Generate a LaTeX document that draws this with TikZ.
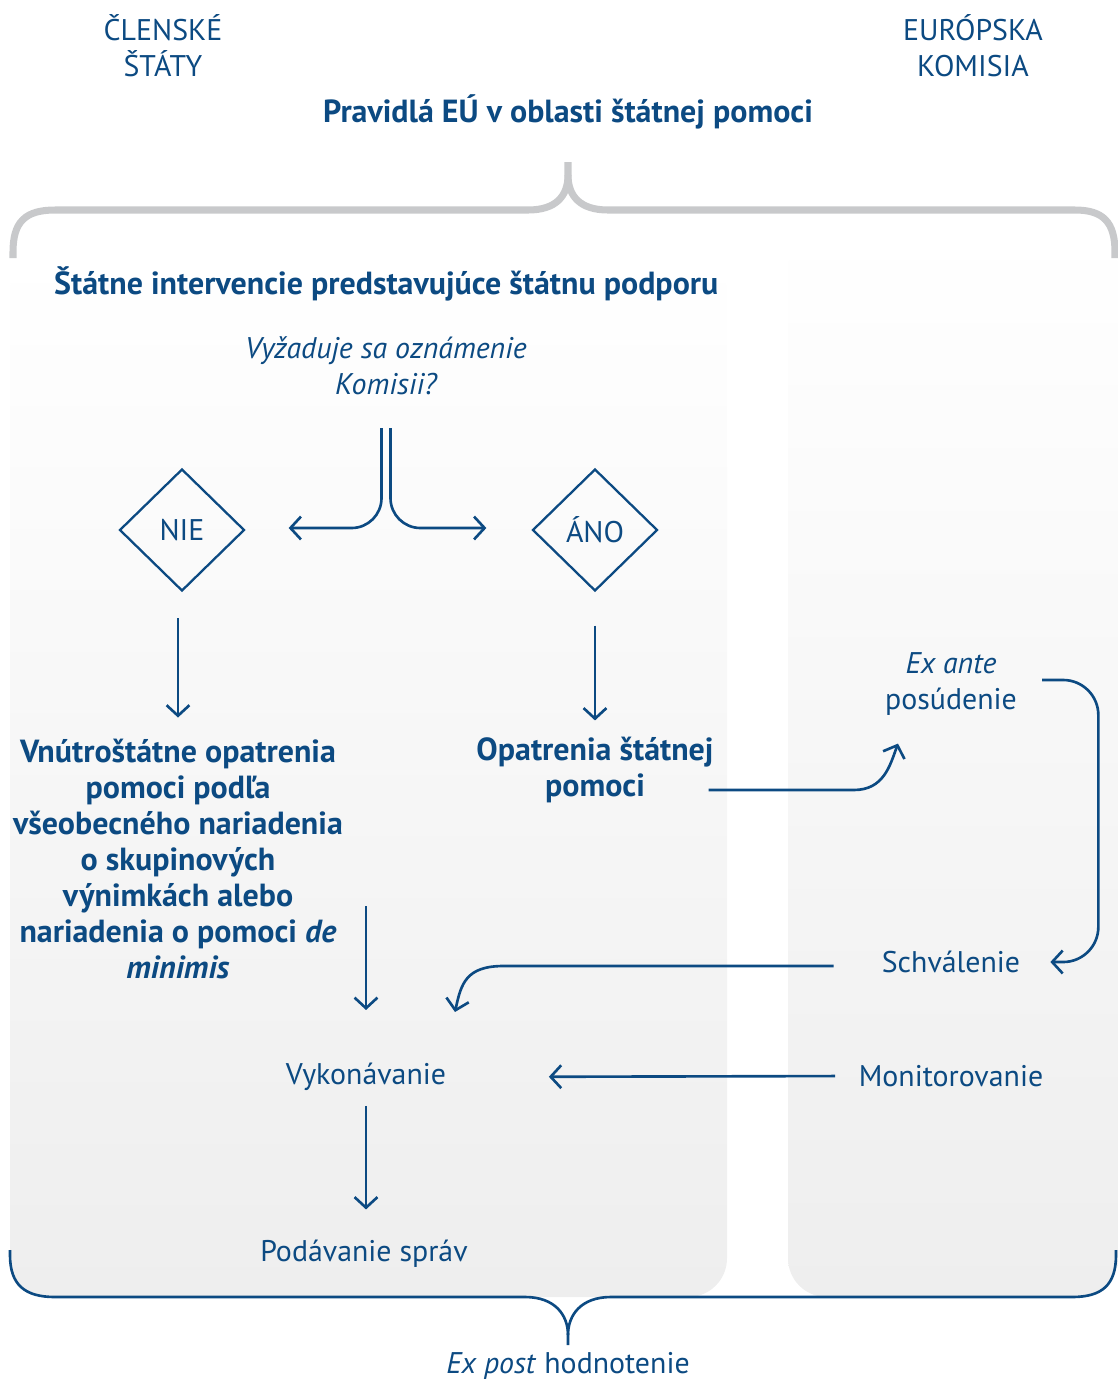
\documentclass[tikz,border=0pt]{standalone}
\usepackage{fontspec}
\setmainfont{PT Sans}
\usetikzlibrary{calc,arrows.meta,positioning,shapes.geometric}
\definecolor{euBlue}{RGB}{12,74,130}
\definecolor{braceGray}{RGB}{200,201,203}
\definecolor{panelGray}{RGB}{238,238,238}

\begin{document}
\begin{tikzpicture}[x=0.02cm,y=-0.02cm,
		txt/.style={text=euBlue, align=center, font=\fontsize{17}{20.4}\selectfont},
		btxt/.style={txt, font=\fontsize{18.2}{20.4}\selectfont\bfseries},
		itxt/.style={txt, font=\fontsize{17}{20.4}\selectfont\itshape},
		choice/.style={diamond, draw=euBlue, line width=1.3pt, minimum width=2.5cm, minimum height=2.44cm, inner sep=0pt, txt},
		flow/.style={draw=euBlue, line width=1.5pt, -{Straight Barb[length=6pt,width=13pt]}}]
		\useasboundingbox (0,0) rectangle (1118,1384);

		% Panelen
		\shade[top color=white, bottom color=panelGray, rounded corners=22pt] (10,252) rectangle (727,1297);
		\shade[top color=white, bottom color=panelGray, rounded corners=22pt] (788,228) rectangle (1118,1297);

		% Accolades
		\draw[braceGray, line width=4pt] (13,258) -- (13,252) .. controls (13,222) and (25,210) .. (55,210) -- (528,210) .. controls (556,210) and (568,196) .. (568,175) -- (568,162);
		\draw[braceGray, line width=4pt] (568,175) .. controls (568,196) and (580,210) .. (608,210) -- (1075,210) .. controls (1103,210) and (1115,222) .. (1115,252) -- (1115,258);
		\draw[euBlue, line width=1.5pt] (10,1250) -- (10,1255) .. controls (10,1285) and (25,1297) .. (55,1297) -- (525,1297) .. controls (555,1297) and (568,1315) .. (568,1335) -- (568,1345);
		\draw[euBlue, line width=1.5pt] (568,1335) .. controls (568,1315) and (581,1297) .. (611,1297) -- (1072,1297) .. controls (1102,1297) and (1116,1285) .. (1116,1255) -- (1116,1250);

		% Teksten
		\node[txt] (clen) at (163,46) {ČLENSKÉ\\ŠTÁTY};
		\node[txt] (komisia) at (973,46) {EURÓPSKA\\KOMISIA};
		\node[btxt] (rules) at (568,112) {Pravidlá EÚ v oblasti štátnej pomoci};
		\node[btxt, anchor=west] (interv) at (48,284) {Štátne intervencie predstavujúce štátnu podporu};
		\node[itxt] (ask) at (386,366) {Vyžaduje sa oznámenie\\Komisii?};
		\node[choice] (nie) at (182,530) {NIE};
		\node[choice] (ano) at (595,530) {ÁNO};
		\node[btxt] (gber) at (178,859) {Vnútroštátne opatrenia\\pomoci podľa\\všeobecného nariadenia\\o skupinových\\výnimkách alebo\\nariadenia o pomoci \textit{de}\\\textit{minimis}};
		\node[btxt] (opat) at (595,770) {Opatrenia štátnej\\pomoci};
		\node[txt] (exante) at (951,684) {\textit{Ex ante}\\posúdenie};
		\node[txt] (schval) at (951,962) {Schválenie};
		\node[txt] (vykon) at (366,1077) {Vykonávanie};
		\node[txt] (monit) at (951,1076) {Monitorovanie};
		\node[txt] (podav) at (364,1254) {Podávanie správ};
		\node[txt, inner sep=1pt] (expost) at (568,1366) {\textit{Ex post} hodnotenie};

		% Splitsing
		\draw[flow, rounded corners=17pt] ($(ask.south)+(-4.5,27)$) |- ($(nie.east)+(43,-2)$);
		\draw[flow, rounded corners=17pt] ($(ask.south)+(4.5,27)$) |- ($(ano.west)+(-45,-2)$);

		% Pijlen
		\draw[flow, shorten <=15pt, shorten >=9pt] (gber.north |- nie.south) -- (gber.north);
		\draw[flow, shorten <=19pt, shorten >=6pt] (ano.south) -- (opat.north);
		\draw[flow] ($(opat.east)+(-11,20)$) -- ++(145,0) .. controls +(30,0) and +(-8,22) .. ($(exante.south)+(-53,22)$);
		\draw[flow, rounded corners=20pt] ($(exante.east)+(19,-4)$) -| ($(schval.east)+(72,0)$) -- ($(schval.east)+(24,0)$);
		\draw[flow] ($(schval.west)+(-42,4)$) -- ++(-330,0) .. controls +(-38,0) and +(6,-28) .. ($(vykon.north)+(89,-45)$);
		\draw[flow] ($(vykon.north |- gber.east)+(0,47)$) -- ($(vykon.north)+(0,-47)$);
		\draw[flow, shorten <=10pt, shorten >=55pt] (monit.west) -- (vykon.east);
		\draw[flow, shorten <=5pt, shorten >=14pt] (vykon.south) -- (vykon.south |- podav.north);

	\end{tikzpicture}
\end{document}
